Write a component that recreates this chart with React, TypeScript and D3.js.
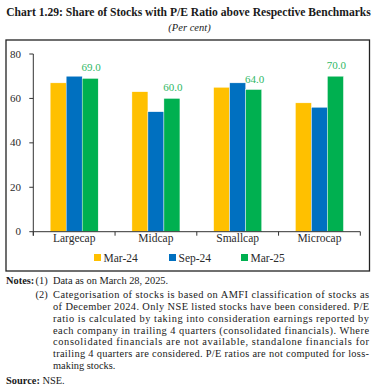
import React from "react";
import * as d3 from "d3";

const categories = ["Largecap", "Midcap", "Smallcap", "Microcap"];
const seriesNames = ["Mar-24", "Sep-24", "Mar-25"];
const mar24 = [67, 63, 65, 58];
const sep24 = [70, 54, 67, 56];
const mar25 = [69, 60, 64, 70];
const yTicks = [0, 20, 40, 60, 80];
const colors = ["#FFC000", "#0070C0", "#00B050"];

const noteLines = [
  "Categorisation of stocks is based on AMFI classification of stocks as",
  "of December 2024. Only NSE listed stocks have been considered. P/E",
  "ratio is calculated by taking into consideration earnings reported by",
  "each company in trailing 4 quarters (consolidated financials). Where",
  "consolidated financials are not available, standalone financials for",
  "trailing 4 quarters are considered. P/E ratios are not computed for loss-",
  "making stocks.",
];

export default function App() {
  const W = 379, H = 390;
  const left = 33.3, right = 360.3, top = 54, bottom = 231.7;
  const x = d3.scaleBand<string>().domain(categories).range([left, right]).padding(0);
  const bw = x.bandwidth();
  const groupW = 48;
  const xi = d3.scaleBand<string>().domain(seriesNames).range([(bw - groupW) / 2, (bw + groupW) / 2]).padding(0);
  const y = d3.scaleLinear().domain([0, 80]).range([bottom, top]);
  const data = [mar24, sep24, mar25];
  const font = "'Liberation Serif', 'Times New Roman', serif";
  const textColor = "#2b2b2b";
  const boundaries = [...categories.map((c) => x(c) as number), right];

  const legendX = [94, 169, 241];

  const noteY0 = 298.2;
  const noteStep = 11.8;
  const nfs = 10.4;

  return (
    <svg width={W} height={H} style={{ position: "absolute", left: 0, top: 0 }} fontFamily={font}>
      <rect width={W} height={H} fill="#fff" />
      <text x={188.5} y={16} fontSize={11.6} fontWeight="bold" textAnchor="middle" fill="#1a1a1a">
        Chart 1.29: Share of Stocks with P/E Ratio above Respective Benchmarks
      </text>
      <text x={189.5} y={31} fontSize={10.5} fontStyle="italic" textAnchor="middle" fill="#1a1a1a">
        (Per cent)
      </text>
      <rect x={6} y={40} width={363.5} height={231} fill="none" stroke="#222" strokeWidth={1.3} />

      {/* bars */}
      {categories.map((c, ci) => (
        <g key={c} transform={`translate(${x(c)},0)`}>
          {seriesNames.map((s, si) => (
            <rect
              key={s}
              x={xi(s)}
              y={y(data[si][ci])}
              width={xi.bandwidth()}
              height={bottom - y(data[si][ci])}
              fill={colors[si]}
              stroke="#fff"
              strokeWidth={0.4}
            />
          ))}
          <text
            x={(xi("Mar-25") as number) + xi.bandwidth() / 2 + 1}
            y={y(mar25[ci]) - 7}
            fontSize={11}
            textAnchor="middle"
            fill="#2fb865"
          >
            {mar25[ci].toFixed(1)}
          </text>
        </g>
      ))}

      {/* y axis */}
      <line x1={left} x2={left} y1={top} y2={bottom + 4} stroke="#333" strokeWidth={1} />
      {yTicks.map((t) => (
        <g key={t}>
          <line x1={left - 4} x2={left} y1={y(t)} y2={y(t)} stroke="#333" strokeWidth={1} />
          <text x={21} y={y(t) + 3.5} fontSize={11} textAnchor="end" fill={textColor}>
            {t}
          </text>
        </g>
      ))}

      {/* x axis */}
      <line x1={left} x2={right} y1={bottom} y2={bottom} stroke="#333" strokeWidth={1} />
      {boundaries.map((b, i) => (
        <line key={i} x1={b} x2={b} y1={bottom} y2={bottom + 4} stroke="#333" strokeWidth={1} />
      ))}
      {categories.map((c) => (
        <text key={c} x={(x(c) as number) + bw / 2} y={242} fontSize={11.5} textAnchor="middle" fill={textColor}>
          {c}
        </text>
      ))}

      {/* legend */}
      {seriesNames.map((s, i) => (
        <g key={s}>
          <rect x={legendX[i]} y={254} width={7} height={7} fill={colors[i]} />
          <text x={legendX[i] + 9.5} y={261.5} fontSize={11.5} fill={textColor}>
            {s}
          </text>
        </g>
      ))}

      {/* notes */}
      <text x={6} y={284.3} fontSize={nfs} fontWeight="bold" fill="#1a1a1a">
        Notes:
      </text>
      <text x={35.5} y={284.3} fontSize={nfs} fill="#1a1a1a">(1)</text>
      <text x={53} y={284.3} fontSize={nfs} fill="#1a1a1a">Data as on March 28, 2025.</text>
      <text x={35.5} y={noteY0} fontSize={nfs} fill="#1a1a1a">(2)</text>
      {noteLines.map((l, i) => (
        <text
          key={i}
          x={53}
          y={noteY0 + i * noteStep}
          fontSize={nfs}
          fill="#1a1a1a"
          {...(i < noteLines.length - 1 ? { textLength: 316, lengthAdjust: "spacing" } : {})}
        >
          {l}
        </text>
      ))}
      <text x={6} y={383.5} fontSize={nfs} fill="#1a1a1a">
        <tspan fontWeight="bold">Source:</tspan> NSE.
      </text>
    </svg>
  );
}
